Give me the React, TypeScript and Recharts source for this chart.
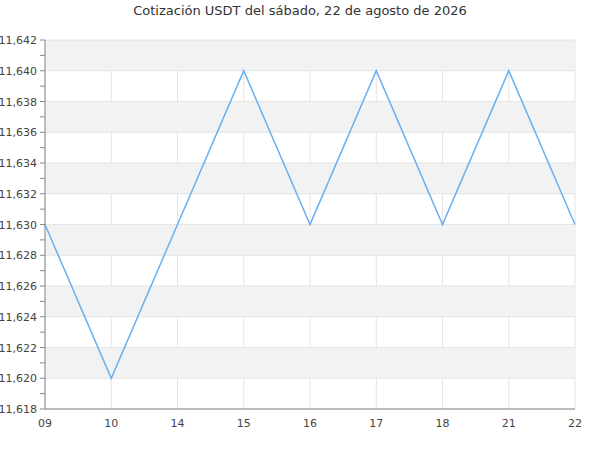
import { LineChart, Line, XAxis, YAxis, CartesianGrid, ReferenceArea, ReferenceLine } from "recharts";

const hours = ["09", "10", "14", "15", "16", "17", "18", "21", "22"];
const prices = [11.63, 11.62, 11.63, 11.64, 11.63, 11.64, 11.63, 11.64, 11.63];
const majorTicks = [11.618, 11.62, 11.622, 11.624, 11.626, 11.628, 11.63, 11.632, 11.634, 11.636, 11.638, 11.64, 11.642];
const allTicks = [
  11.618, 11.619, 11.62, 11.621, 11.622, 11.623, 11.624, 11.625, 11.626, 11.627, 11.628, 11.629, 11.63,
  11.631, 11.632, 11.633, 11.634, 11.635, 11.636, 11.637, 11.638, 11.639, 11.64, 11.641, 11.642,
];
const bands: [number, number][] = [
  [11.62, 11.622],
  [11.624, 11.626],
  [11.628, 11.63],
  [11.632, 11.634],
  [11.636, 11.638],
  [11.64, 11.642],
];

const data = hours.map((h, i) => ({ hour: h, price: prices[i] }));

const FONT = "DejaVu Sans, sans-serif";

const fmt = (v: number) => v.toFixed(3).replace(".", ",");

function YTick(props: any) {
  const { x, y, payload, index } = props;
  return (
    <g>
      <line x1={x + 3} x2={x + 8} y1={y} y2={y} stroke="#888" strokeWidth={1} />
      {index % 2 === 0 && (
        <text x={x} y={y} dy={4} textAnchor="end" fontSize={11} fill="#444" fontFamily={FONT}>
          {fmt(payload.value)}
        </text>
      )}
    </g>
  );
}

function XTick(props: any) {
  const { x, payload } = props;
  return (
    <text x={x} y={427} textAnchor="middle" fontSize={11} fill="#444" fontFamily={FONT}>
      {payload.value}
    </text>
  );
}

export default function App() {
  return (
    <div style={{ position: "absolute", left: 0, top: 0, width: 600, height: 450, background: "#fff" }}>
      <LineChart width={600} height={450} data={data} margin={{ top: 40, right: 25, bottom: 11, left: 0 }}>
        <text x={300} y={15} textAnchor="middle" fontSize={13} fill="#333" fontFamily={FONT}>
          Cotización USDT del sábado, 22 de agosto de 2026
        </text>
        {bands.map(([a, b]) => (
          <ReferenceArea key={a} y1={a} y2={b} fill="#f2f2f2" fillOpacity={1} stroke="none" ifOverflow="hidden" />
        ))}
        <CartesianGrid horizontal={false} stroke="#e4e4e4" />
        {majorTicks.map((t) => (
          <ReferenceLine key={t} y={t} stroke="#e4e4e4" />
        ))}
        <XAxis
          dataKey="hour"
          height={30}
          tickLine={false}
          axisLine={{ stroke: "#888" }}
          tick={<XTick />}
          interval={0}
        />
        <YAxis
          width={45}
          domain={[11.618, 11.642]}
          ticks={allTicks}
          interval={0}
          tickLine={false}
          axisLine={{ stroke: "#888" }}
          tick={<YTick />}
        />
        <Line
          type="linear"
          dataKey="price"
          stroke="#6aaff2"
          strokeWidth={1.5}
          dot={false}
          isAnimationActive={false}
        />
      </LineChart>
    </div>
  );
}
